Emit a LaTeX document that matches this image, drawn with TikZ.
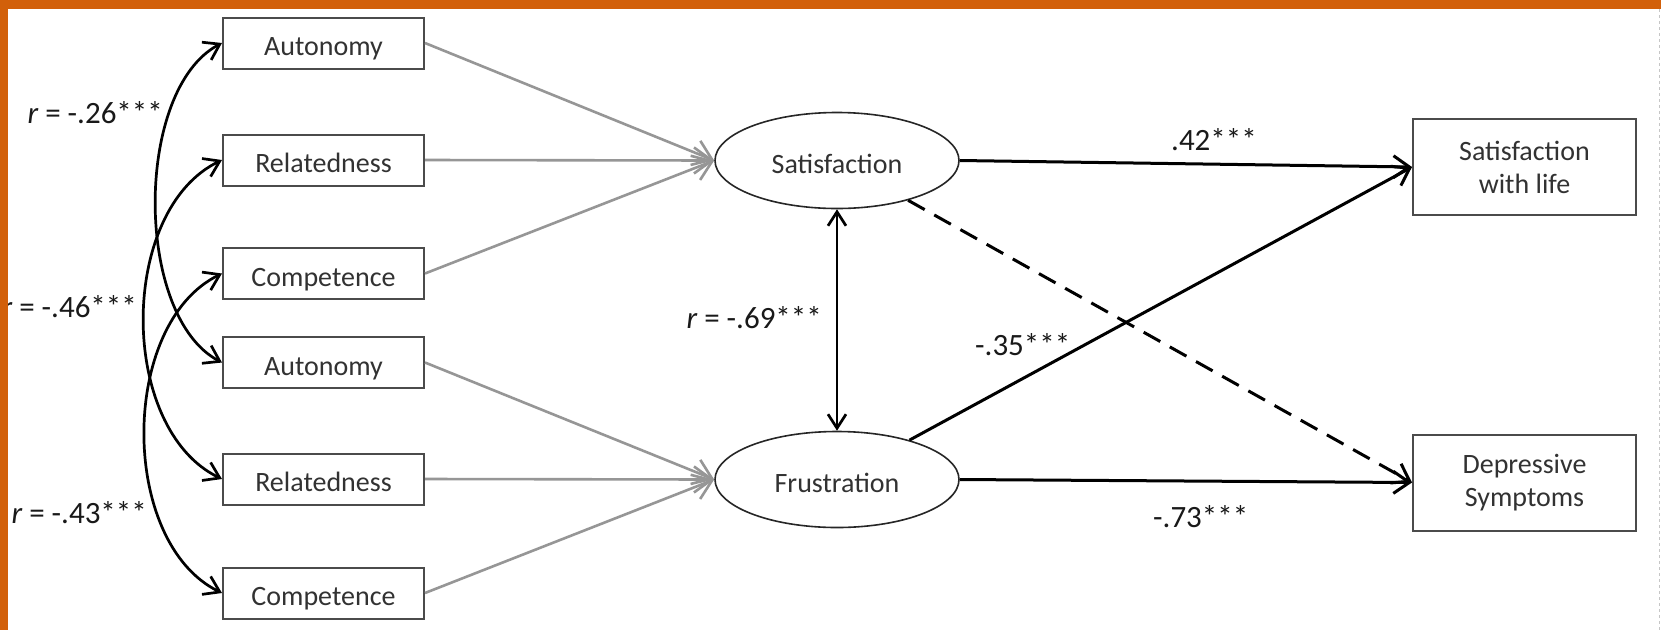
\documentclass[tikz,border=0pt]{standalone}
\usepackage{fontspec}
\setmainfont{Carlito}
\usetikzlibrary{arrows.meta,shapes.geometric}
\definecolor{orng}{RGB}{210,96,10}
\definecolor{txt}{RGB}{50,50,50}
\definecolor{edge}{RGB}{75,75,75}
\definecolor{gline}{RGB}{150,150,150}
\begin{document}
\begin{tikzpicture}[x=1pt,y=-1pt,
  boxbase/.style={draw=edge, line width=2pt, inner sep=0pt, text=txt, font=\fontsize{28}{33}\selectfont},
  box/.style={boxbase, minimum width=201pt, minimum height=51pt, text height=25pt, text depth=0pt},
  outbox/.style={boxbase, minimum width=223pt, minimum height=96pt, align=center},
  latent/.style={ellipse, draw=black!85, line width=1.6pt, minimum width=244pt, minimum height=96pt, inner sep=0pt, text height=25pt, text depth=0pt, text=txt, font=\fontsize{28}{33}\selectfont},
  garrow/.style={draw=gline, line width=2.6pt, -{Straight Barb[length=18pt,width=26pt]}},
  barrow/.style={draw=black, line width=3pt, -{Straight Barb[length=16pt,width=22pt]}},
  darrow/.style={draw=black, line width=2.7pt, {Straight Barb[length=14pt,width=18pt]}-{Straight Barb[length=14pt,width=18pt]}},
  corr/.style={draw=black, line width=2.7pt, {Straight Barb[length=15pt,width=20pt]}-{Straight Barb[length=15pt,width=20pt]}},
  lab/.style={inner sep=0pt, text=black!90, font=\fontsize{31}{36}\selectfont}
]
\fill[white] (0,0) rectangle (1661,630);
\useasboundingbox (0,0) rectangle (1661,630);

% predictor boxes
\node[box] (a1) at (323.5,43) {Autonomy};
\node[box] (r1) at (323.5,160) {Relatedness};
\node[box] (c1) at (323.5,273.5) {Competence};
\node[box] (a2) at (323.5,362.5) {Autonomy};
\node[box] (r2) at (323.5,479) {Relatedness};
\node[box] (c2) at (323.5,593) {Competence};

% latent variables
\node[latent] (sat) at (837,160.5) {Satisfaction};
\node[latent] (fru) at (837,479.5) {Frustration};

% outcomes
\node[outbox] (swl) at (1524.5,167) {Satisfaction\\with life};
\node[outbox] (ds) at (1524.5,482.5) {Depressive\\Symptoms};

% gray paths
\draw[garrow] (a1.east) -- (sat.west);
\draw[garrow] (r1.east) -- (sat.west);
\draw[garrow] (c1.east) -- (sat.west);
\draw[garrow] (a2.east) -- (fru.west);
\draw[garrow] (r2.east) -- (fru.west);
\draw[garrow] (c2.east) -- (fru.west);

% black paths
\draw[barrow] (sat.east) -- (swl.west);
\draw[barrow] (fru) -- (swl.west);
\draw[barrow, dash pattern=on 19pt off 11pt] (sat) -- (ds.west);
\draw[barrow] (fru.east) -- (ds.west);
\draw[darrow] (sat.south) -- (fru.north);

% correlations
\draw[corr] (a1.west) .. controls +(-88,46) and +(-88,-46) .. (a2.west);
\draw[corr] (r1.west) .. controls +(-104,50) and +(-104,-50) .. (r2.west);
\draw[corr] (c1.west) .. controls +(-103,50) and +(-103,-50) .. (c2.west);

% labels
\node[lab, anchor=east] (l26) at (163,113) {{\itshape r} = -.26***};
\node[lab, anchor=east] (l46) at (137,307) {{\itshape r} = -.46***};
\node[lab, anchor=east] (l43) at (147,513) {{\itshape r} = -.43***};
\node[lab, anchor=east] (l69) at (822,318) {{\itshape r} = -.69***};
\node[lab, anchor=west] (l42) at (1171,140) {.42***};
\node[lab, anchor=west] (l35) at (975,345) {-.35***};
\node[lab, anchor=west] (l73) at (1153,517) {-.73***};

% frame
\draw[gray!45, line width=1pt, dash pattern=on 3pt off 3pt] (1659,9) -- (1659,630);
\fill[orng] (0,0) rectangle (1661,9);
\fill[orng] (0,0) rectangle (8,630);
\end{tikzpicture}
\end{document}
